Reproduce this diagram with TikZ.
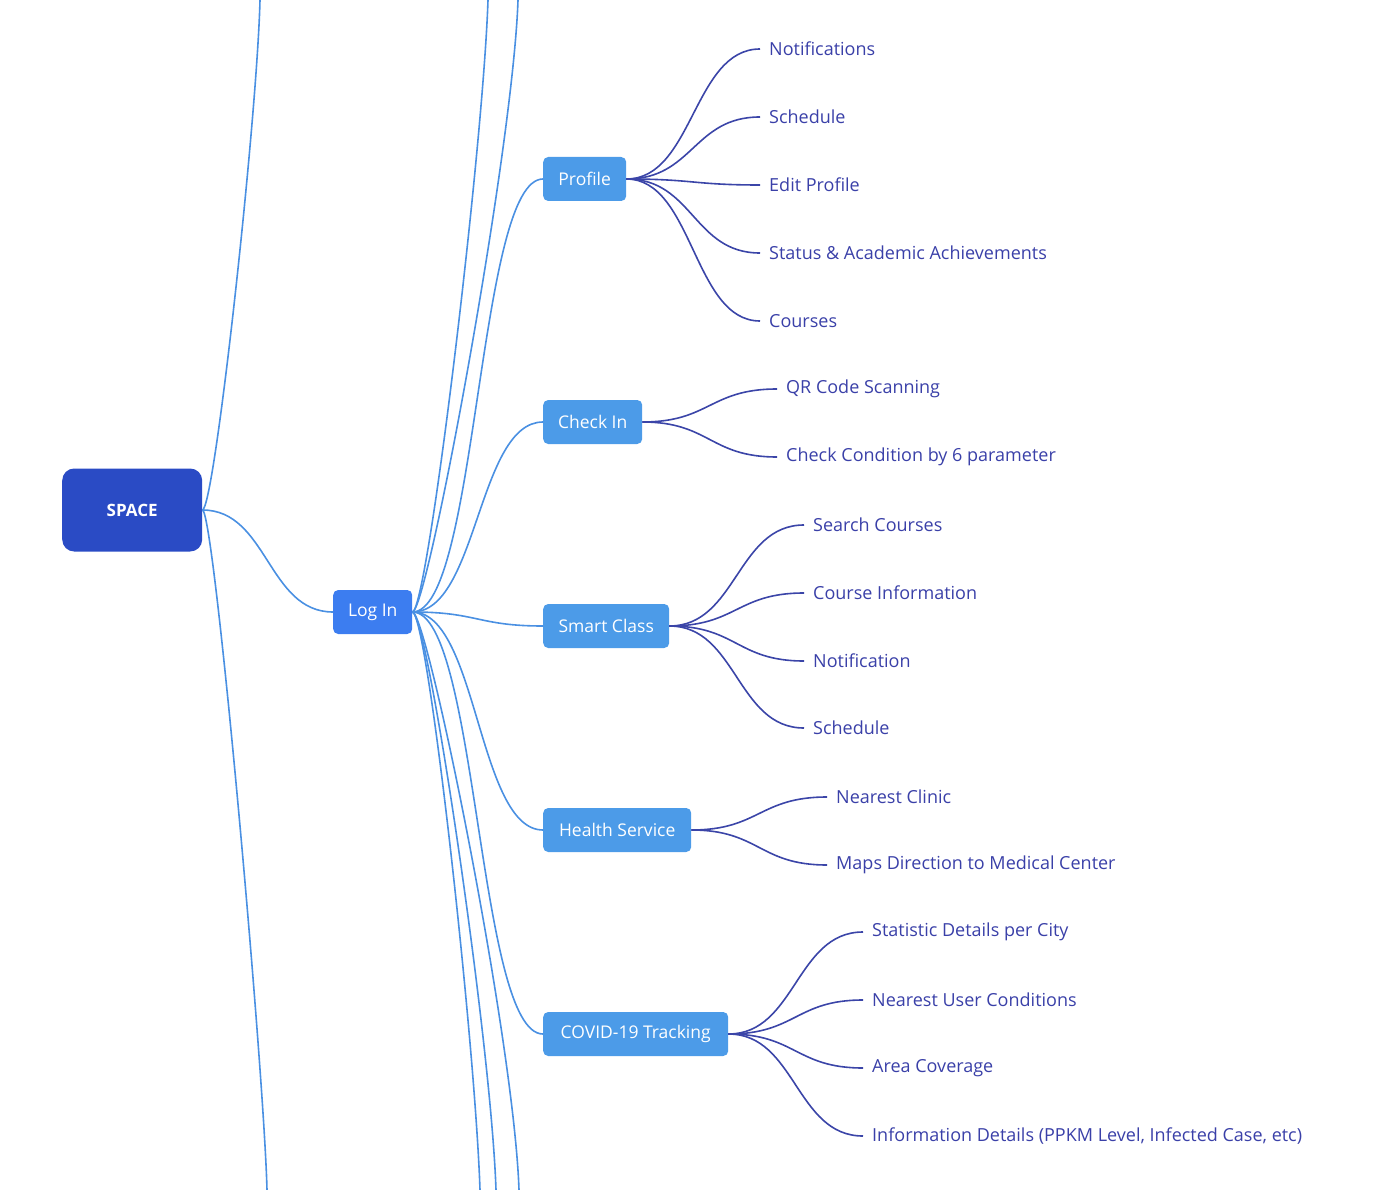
\documentclass[tikz,border=0pt]{standalone}
\usepackage{fontspec}
\setmainfont{Open Sans}
\usetikzlibrary{calc}
\begin{document}
\begin{tikzpicture}[x=1pt,y=-1pt,
  box/.style={rounded corners=5pt,fill=#1,text=white,font=\fontsize{17.5}{20}\selectfont,inner sep=0pt,anchor=west},
  leaf/.style={anchor=west,text=leafc,font=\fontsize{18}{20}\selectfont,inner sep=0pt},
  lc/.style={draw=linec,line width=1.6pt},
  ll/.style={draw=leafl,line width=1.6pt}]
\definecolor{spc}{HTML}{2A4BC5}
\definecolor{logc}{HTML}{3C7DF0}
\definecolor{subc}{HTML}{4C9BE8}
\definecolor{linec}{HTML}{4A90E2}
\definecolor{leafc}{HTML}{3A40A8}
\definecolor{leafl}{HTML}{3B45A8}
\newcommand{\mmconn}[3]{\draw[#1] let \p1=(#2), \p2=(#3), \n1={(\x2-\x1)/2} in (\p1) .. controls +(\n1,0) and +(-\n1,0) .. (\p2);}
\useasboundingbox (0,0) rectangle (1384,1190);
\node[box=spc,minimum width=140pt,minimum height=83pt,rounded corners=12pt,font=\bfseries\fontsize{17}{20}\selectfont] (space) at (62,510) {SPACE};
\node[box=logc,minimum width=79pt,minimum height=44pt] (login) at (333,612) {Log In};
\node[box=subc,minimum width=83pt,minimum height=44pt] (profile) at (543,179) {Profile};
\node[box=subc,minimum width=99pt,minimum height=44pt] (check) at (543,422) {Check In};
\node[box=subc,minimum width=126pt,minimum height=44pt] (smart) at (543,626) {Smart Class};
\node[box=subc,minimum width=148pt,minimum height=44pt] (health) at (543,830) {Health Service};
\node[box=subc,minimum width=185pt,minimum height=44pt] (covid) at (543,1034) {COVID-19 Tracking};
\coordinate (s1) at (260,0); \coordinate (s2) at (267,1190);
\coordinate (t1) at (488,0); \coordinate (t2) at (518,0);
\coordinate (b1) at (480,1190); \coordinate (b2) at (496,1190); \coordinate (b3) at (519,1190);
\draw[lc] (space.east) .. controls +(12,0) and +(-3,120) .. (s1);
\draw[lc] (space.east) .. controls +(12,0) and +(-3,-120) .. (s2);
\mmconn{lc}{space.east}{login.west}
\foreach \t in {t1,t2} \draw[lc] (login.east) .. controls +(15,0) and +(-5,150) .. (\t);
\foreach \t in {b1,b2,b3} \draw[lc] (login.east) .. controls +(15,0) and +(-5,-150) .. (\t);
\foreach \t in {profile,check,smart,health,covid} {\mmconn{lc}{login.east}{\t.west}}
\foreach \k/\y/\txt in {p1/49/Notifications,p2/117/Schedule,p3/185/Edit Profile,p4/253/Status \& Academic Achievements,p5/321/Courses}{
  \node[leaf] (\k) at (769,\y) {\txt};
  \coordinate (\k a) at ([xshift=-9pt]\k.west);
  \mmconn{ll}{profile.east}{\k a}}
\foreach \k/\y/\txt in {c1/389/QR Code Scanning,c2/457/Check Condition by 6 parameter}{
  \node[leaf] (\k) at (786,\y) {\txt};
  \coordinate (\k a) at ([xshift=-9pt]\k.west);
  \mmconn{ll}{check.east}{\k a}}
\foreach \k/\y/\txt in {m1/525/Search Courses,m2/593/Course Information,m3/661/Notification,m4/728/Schedule}{
  \node[leaf] (\k) at (813,\y) {\txt};
  \coordinate (\k a) at ([xshift=-9pt]\k.west);
  \mmconn{ll}{smart.east}{\k a}}
\foreach \k/\y/\txt in {h1/797/Nearest Clinic,h2/865/Maps Direction to Medical Center}{
  \node[leaf] (\k) at (836,\y) {\txt};
  \coordinate (\k a) at ([xshift=-9pt]\k.west);
  \mmconn{ll}{health.east}{\k a}}
\foreach \k/\y/\txt in {v1/932/Statistic Details per City,v2/1000/Nearest User Conditions,v3/1068/Area Coverage,v4/1136/{Information Details (PPKM Level, Infected Case, etc)}}{
  \node[leaf] (\k) at (872,\y) {\txt};
  \coordinate (\k a) at ([xshift=-9pt]\k.west);
  \mmconn{ll}{covid.east}{\k a}}
\end{tikzpicture}
\end{document}
